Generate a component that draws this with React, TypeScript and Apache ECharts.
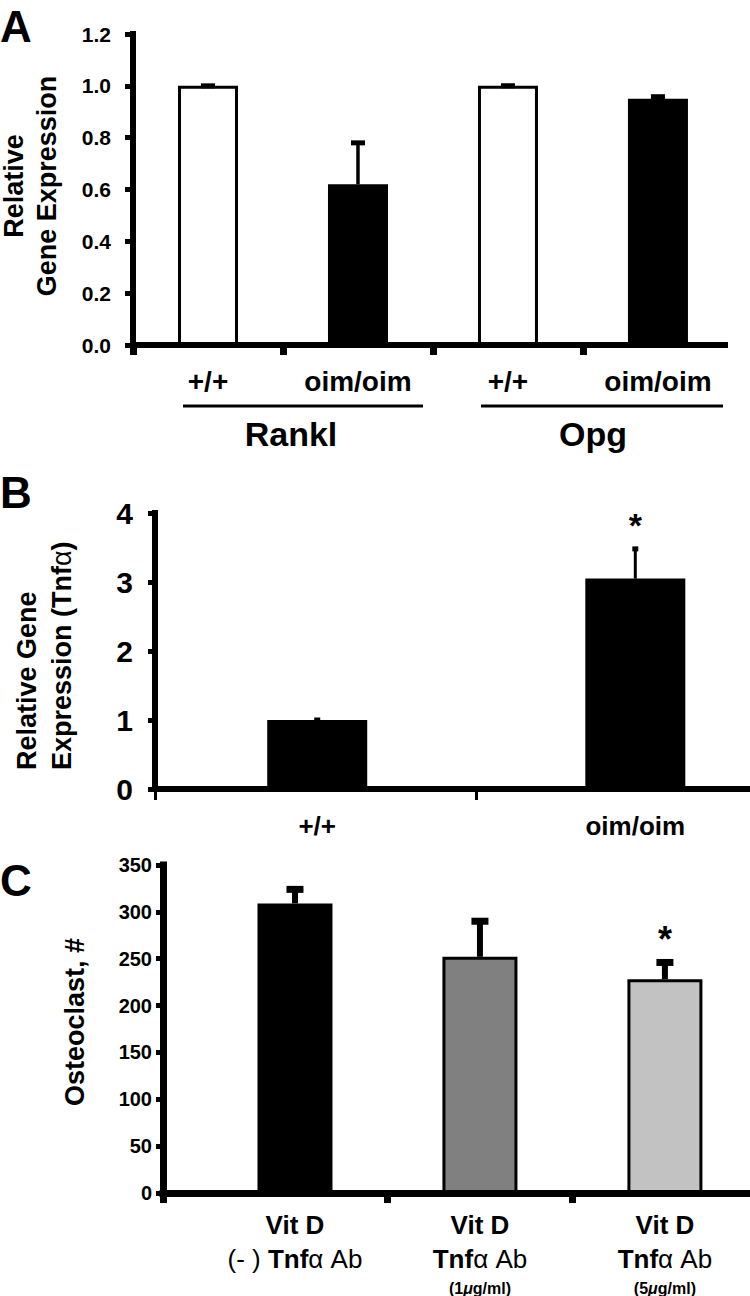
import React, { useEffect, useRef } from 'react';
import * as echarts from 'echarts';

const FONT = '"Liberation Sans", Arial, Helvetica, sans-serif';

// ---------- Panel A data ----------
const aGroups = ['Rankl', 'Opg'];
const aGenotypes = ['+/+', 'oim/oim', '+/+', 'oim/oim'];
const aValues = [1.0, 0.62, 1.0, 0.95];
const aErrors = [0.0, 0.16, 0.0, 0.008];

// ---------- Panel B data ----------
const bGenotypes = ['+/+', 'oim/oim'];
const bValues = [1.0, 3.05];
const bErrors = [0.0, 0.43];
const bSignificant = [false, true];

// ---------- Panel C data ----------
const cDrug = ['Vit D', 'Vit D', 'Vit D'];
const cAntibody = ['(- ) Tnfα Ab', 'Tnfα Ab', 'Tnfα Ab'];
const cDose = ['', '1μg/ml', '5μg/ml'];
const cValues = [309, 252, 228];
const cErrors = [15, 38, 18];
const cSignificant = [false, false, true];

// ---------- styles ----------
const aFills = ['#ffffff', '#000000', '#ffffff', '#000000'];
const cFills = ['#000000', '#808080', '#c2c2c2'];

function errorRenderer(o: { lw: number; capW: number; capH: number; star?: number; gap?: number; sig?: boolean[] }) {
  return (params: any, api: any) => {
    const x = api.value(0);
    const y = api.value(1);
    const e = api.value(2);
    const base = api.coord([x, y]);
    const top = api.coord([x, y + e]);
    const children: any[] = [
      { type: 'line', shape: { x1: base[0], y1: base[1], x2: top[0], y2: top[1] }, style: { stroke: '#000', lineWidth: o.lw } },
      { type: 'rect', shape: { x: top[0] - o.capW / 2, y: top[1] - o.capH / 2, width: o.capW, height: o.capH }, style: { fill: '#000' } },
    ];
    if (o.sig && o.sig[params.dataIndex]) {
      children.push({
        type: 'text',
        x: top[0],
        y: top[1] - (o.gap || 20),
        style: { text: '*', fontSize: o.star, fontWeight: 'bold', fontFamily: FONT, fill: '#000', align: 'center', verticalAlign: 'middle' },
      });
    }
    return { type: 'group', children };
  };
}

function cLabel(v: number) {
  const i = Math.round(v) - 1;
  const ab = cAntibody[i];
  const k = ab.indexOf('Tnf');
  const pre = ab.slice(0, k);
  const rest = ab.slice(k + 3);
  let s = `{b|${cDrug[i]}}\n`;
  if (pre) s += `{r|${pre}}`;
  s += `{b|Tnf}{r|${rest}}`;
  if (cDose[i]) {
    const d = cDose[i];
    const m = d.indexOf('μ');
    s += `\n{s|(${d.slice(0, m)}}{si|μ}{s|${d.slice(m + 1)})}`;
  }
  return s;
}

const axisLineStyle = (w: number) => ({ show: true, onZero: false, lineStyle: { color: '#000', width: w, cap: 'square' } });

export default function App() {
  const ref = useRef<HTMLDivElement>(null);
  useEffect(() => {
    if (!ref.current) return;
    const chart = echarts.init(ref.current, null, { renderer: 'svg' });
    const aMin = 0.5, aMax = 4.447;
    const bMin = 0.49, bMax = 2.37;
    const cMin = 0.2865, cMax = 3.46;
    const option: any = {
      animation: false,
      backgroundColor: '#ffffff',
      grid: [
        { left: 133, top: 34, width: 592, height: 311, containLabel: false, outerBoundsMode: 'none' },
        { left: 155, top: 513, width: 598, height: 276, containLabel: false, outerBoundsMode: 'none' },
        { left: 163, top: 865, width: 587, height: 328, containLabel: false, outerBoundsMode: 'none' },
      ],
      xAxis: [
        {
          gridIndex: 0, type: 'value', min: aMin, max: aMax,
          axisLine: axisLineStyle(6),
          axisTick: { show: true, customValues: [0.5, 1.5, 2.5, 3.5], length: 10, lineStyle: { color: '#000', width: 7 } },
          axisLabel: {
            customValues: aGenotypes.map((_, i) => i + 1),
            formatter: (v: number) => aGenotypes[Math.round(v) - 1],
            fontSize: 28, fontWeight: 'bold', fontFamily: FONT, color: '#000', margin: 22,
          },
          splitLine: { show: false },
        },
        {
          gridIndex: 1, type: 'value', min: bMin, max: bMax,
          axisLine: axisLineStyle(6),
          axisTick: { show: true, customValues: [bMin, 1.5], length: 11, lineStyle: { color: '#000', width: 3 } },
          axisLabel: {
            customValues: bGenotypes.map((_, i) => i + 1),
            formatter: (v: number) => bGenotypes[Math.round(v) - 1],
            fontSize: 26, fontWeight: 'bold', fontFamily: FONT, color: '#000', margin: 24,
          },
          splitLine: { show: false },
        },
        {
          gridIndex: 2, type: 'value', min: cMin, max: cMax,
          axisLine: axisLineStyle(7),
          axisTick: { show: true, customValues: [cMin, 1.5, 2.5], length: 10, lineStyle: { color: '#000', width: 7 } },
          axisLabel: {
            customValues: cValues.map((_, i) => i + 1),
            formatter: (v: number) => cLabel(v),
            color: '#000', margin: 15, align: 'center',
            rich: {
              b: { fontSize: 26, fontWeight: 'bold', fontFamily: FONT, color: '#000', lineHeight: 34 },
              r: { fontSize: 26, fontWeight: 'normal', fontFamily: FONT, color: '#000', lineHeight: 34 },
              s: { fontSize: 16, fontWeight: 'bold', fontFamily: FONT, color: '#000', lineHeight: 24 },
              si: { fontSize: 16, fontWeight: 'bold', fontStyle: 'italic', fontFamily: FONT, color: '#000', lineHeight: 24 },
            },
          },
          splitLine: { show: false },
        },
      ],
      yAxis: [
        {
          gridIndex: 0, type: 'value', min: 0, max: 1.2, interval: 0.2,
          axisLine: axisLineStyle(6),
          axisTick: { show: true, length: 8, lineStyle: { color: '#000', width: 5 } },
          axisLabel: { formatter: (v: number) => v.toFixed(1), fontSize: 21, fontWeight: 'bold', fontFamily: FONT, color: '#000', margin: 22 },
          splitLine: { show: false },
        },
        {
          gridIndex: 1, type: 'value', min: 0, max: 4, interval: 1,
          axisLine: axisLineStyle(6),
          axisTick: { show: true, length: 7, lineStyle: { color: '#000', width: 5 } },
          axisLabel: { fontSize: 30, fontWeight: 'bold', fontFamily: FONT, color: '#000', margin: 22 },
          splitLine: { show: false },
        },
        {
          gridIndex: 2, type: 'value', min: 0, max: 350, interval: 50,
          axisLine: axisLineStyle(7),
          axisTick: { show: true, length: 7, lineStyle: { color: '#000', width: 5 } },
          axisLabel: { fontSize: 20, fontWeight: 'bold', fontFamily: FONT, color: '#000', margin: 11 },
          splitLine: { show: false },
        },
      ],
      series: [
        {
          type: 'bar', xAxisIndex: 0, yAxisIndex: 0, barWidth: 60,
          data: aValues.map((v, i) => ({ value: [i + 1, v], itemStyle: { color: aFills[i] } })),
          itemStyle: { borderColor: '#000', borderWidth: 3 },
        },
        {
          type: 'custom', xAxisIndex: 0, yAxisIndex: 0, z: 5,
          data: aValues.map((v, i) => [i + 1, v, aErrors[i]]),
          renderItem: errorRenderer({ lw: 3.5, capW: 14, capH: 5 }),
        },
        {
          type: 'bar', xAxisIndex: 1, yAxisIndex: 1, barWidth: 100,
          data: bValues.map((v, i) => [i + 1, v]),
          itemStyle: { color: '#000' },
        },
        {
          type: 'custom', xAxisIndex: 1, yAxisIndex: 1, z: 5,
          data: bValues.map((v, i) => [i + 1, v, bErrors[i]]),
          renderItem: errorRenderer({ lw: 3, capW: 6, capH: 5, star: 34, gap: 24, sig: bSignificant }),
        },
        {
          type: 'bar', xAxisIndex: 2, yAxisIndex: 2, barWidth: 75,
          data: cValues.map((v, i) => ({ value: [i + 1, v], itemStyle: { color: cFills[i] } })),
          itemStyle: { borderColor: '#000', borderWidth: 3 },
        },
        {
          type: 'custom', xAxisIndex: 2, yAxisIndex: 2, z: 5,
          data: cValues.map((v, i) => [i + 1, v, cErrors[i]]),
          renderItem: errorRenderer({ lw: 6, capW: 17, capH: 7, star: 36, gap: 23, sig: cSignificant }),
        },
      ],
      graphic: [
        { type: 'text', x: 0, y: 4, style: { text: 'A', fontSize: 44, fontWeight: 'bold', fontFamily: FONT, fill: '#000', verticalAlign: 'top' } },
        { type: 'text', x: 0, y: 470, style: { text: 'B', fontSize: 44, fontWeight: 'bold', fontFamily: FONT, fill: '#000', verticalAlign: 'top' } },
        { type: 'text', x: 0, y: 858, style: { text: 'C', fontSize: 44, fontWeight: 'bold', fontFamily: FONT, fill: '#000', verticalAlign: 'top' } },
        {
          type: 'text', x: 30, y: 186, rotation: Math.PI / 2,
          style: { text: 'Relative\nGene Expression', fontSize: 27, fontWeight: 'bold', fontFamily: FONT, fill: '#000', align: 'center', verticalAlign: 'middle', lineHeight: 33 },
        },
        { type: 'line', shape: { x1: 183, y1: 406, x2: 423, y2: 406 }, style: { stroke: '#000', lineWidth: 3 } },
        { type: 'line', shape: { x1: 481, y1: 406, x2: 723, y2: 406 }, style: { stroke: '#000', lineWidth: 3 } },
        { type: 'text', x: 291, y: 434, style: { text: aGroups[0], fontSize: 34, fontWeight: 'bold', fontFamily: FONT, fill: '#000', align: 'center', verticalAlign: 'middle' } },
        { type: 'text', x: 593, y: 434, style: { text: aGroups[1], fontSize: 34, fontWeight: 'bold', fontFamily: FONT, fill: '#000', align: 'center', verticalAlign: 'middle' } },
        {
          type: 'text', x: 44, y: 770, rotation: Math.PI / 2,
          style: {
            text: 'Relative Gene\nExpression (Tnf{a|α})', fontSize: 27, fontWeight: 'bold', fontFamily: FONT, fill: '#000',
            align: 'left', verticalAlign: 'middle', lineHeight: 35,
            rich: { a: { fontSize: 27, fontWeight: 'normal', fontFamily: FONT, fill: '#000', lineHeight: 35 } },
          },
        },
        {
          type: 'text', x: 75, y: 1022, rotation: Math.PI / 2,
          style: { text: 'Osteoclast, #', fontSize: 27, fontWeight: 'bold', fontFamily: FONT, fill: '#000', align: 'center', verticalAlign: 'middle' },
        },
      ],
    };
    chart.setOption(option);
    return () => chart.dispose();
  }, []);
  return (
    <div
      ref={ref}
      style={{ position: 'absolute', left: 0, top: 0, width: 750, height: 1296, background: '#fff' }}
    />
  );
}
